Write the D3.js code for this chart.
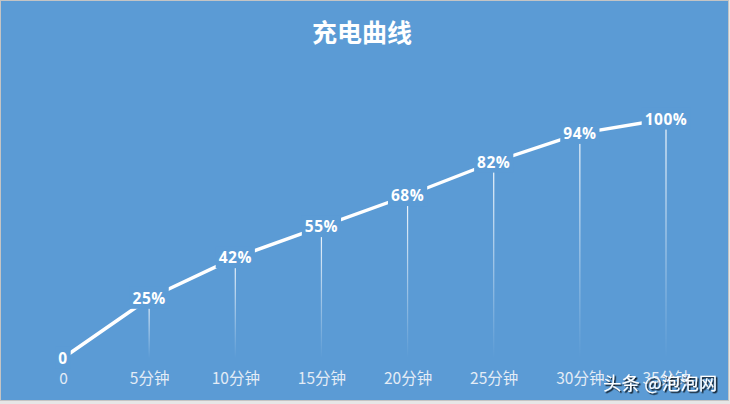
<!DOCTYPE html>
<html><head><meta charset="utf-8">
<script src="https://cdn.jsdelivr.net/npm/d3@7"></script>
<style>
html,body{margin:0;padding:0;background:#e8e8e8;}
svg{display:block;}
</style></head>
<body>
<script>
const categories = ["0","5分钟","10分钟","15分钟","20分钟","25分钟","30分钟","35分钟"];
const values = [0,25,42,55,68,82,94,100];
const labels = ["0","25%","42%","55%","68%","82%","94%","100%"];
const title = "充电曲线";
const watermark = "头条 @泡泡网";

const W = 730, H = 404;
const bg = "#5B9BD5";
const svg = d3.select("body").append("svg").attr("width", W).attr("height", H);
const defs = svg.append("defs");
const grad = defs.append("linearGradient").attr("id","drop").attr("x1",0).attr("y1",0).attr("x2",0).attr("y2",1);
grad.append("stop").attr("offset","0%").attr("stop-color","#ffffff").attr("stop-opacity",0.95);
grad.append("stop").attr("offset","100%").attr("stop-color","#ffffff").attr("stop-opacity",0.0);
const sh = defs.append("filter").attr("id","sh").attr("x","-10%").attr("y","-30%").attr("width","130%").attr("height","170%");
sh.append("feDropShadow").attr("dx",1.5).attr("dy",1.5).attr("stdDeviation",0.6).attr("flood-color","#000").attr("flood-opacity",0.9);

svg.append("rect").attr("x",0).attr("y",0).attr("width",W).attr("height",H).attr("fill","#e6e6e6");
svg.append("rect").attr("x",0.5).attr("y",0.5).attr("width",728).attr("height",400)
  .attr("fill",bg).attr("stroke","#c4c4c4").attr("stroke-width",1);

const x = d3.scalePoint().domain(categories).range([63, 666]);
const y = d3.scaleLinear().domain([0,100]).range([358, 119]);

svg.append("text").attr("x",362).attr("y",42).attr("text-anchor","middle")
  .attr("font-family","'Noto Sans CJK SC', sans-serif").attr("font-weight","bold")
  .attr("font-size",25).attr("fill","#fff").text(title);

// drop lines
svg.append("g").selectAll("rect").data(values.map((v,i)=>({v,c:categories[i]})).filter(d=>d.v>0))
  .join("rect")
  .attr("x", d=>x(d.c)-0.6).attr("width",1.2)
  .attr("y", d=>y(d.v)).attr("height", d=>y(0)-y(d.v))
  .attr("fill","url(#drop)");

// line
const line = d3.line().x((d,i)=>x(categories[i])).y(d=>y(d));
svg.append("path").datum(values).attr("d",line).attr("fill","none")
  .attr("stroke","#fff").attr("stroke-width",3.4).attr("stroke-linejoin","round");

// labels with background
const lg = svg.append("g").selectAll("g").data(values.map((v,i)=>({v,c:categories[i],t:labels[i]})))
  .join("g").attr("transform", d=>`translate(${x(d.c)},${y(d.v)})`);
lg.append("text").attr("text-anchor","middle").attr("dy","0.36em")
  .attr("font-family","'Open Sans','Noto Sans',sans-serif").attr("font-weight","bold")
  .attr("font-size",15.5).attr("letter-spacing",0.5).attr("fill","#fff").text(d=>d.t)
  .each(function(){
    const b = this.getBBox();
    d3.select(this.parentNode).insert("rect","text")
      .attr("x",b.x-3).attr("y",b.y).attr("width",b.width+6).attr("height",b.height).attr("fill",bg);
  });

// x axis labels
const ax = svg.append("g").attr("transform","translate(0,379)")
  .call(d3.axisBottom(x).tickSize(0).tickPadding(0));
ax.select(".domain").remove();
ax.selectAll("text").attr("dy","0.35em").attr("fill","#e3ecf6")
  .attr("font-family","'Noto Sans CJK SC', sans-serif").attr("font-size",15.5);

// watermark
svg.append("text").attr("x",603).attr("y",390)
  .attr("font-family","'Noto Sans CJK SC', sans-serif").attr("font-size",18.5)
  .attr("fill","#fff").attr("filter","url(#sh)").text(watermark);
</script>
</body></html>
